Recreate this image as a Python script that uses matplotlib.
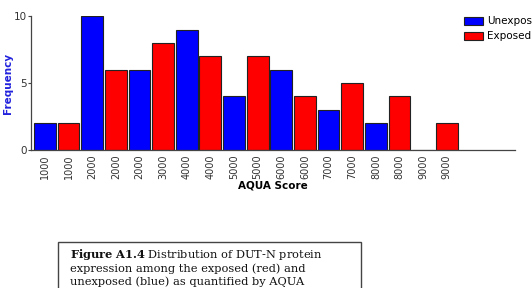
import matplotlib
matplotlib.use('Agg')
import matplotlib.pyplot as plt
from matplotlib.patches import Patch, Rectangle

# AQUA score bins, alternating unexposed / exposed
labels = ['1000', '1000', '2000', '2000', '2000', '3000', '4000', '4000', '5000',
          '5000', '6000', '6000', '7000', '7000', '8000', '8000', '9000', '9000']
frequency = [2, 2, 10, 6, 6, 8, 9, 7, 4, 7, 6, 4, 3, 5, 2, 4, 0, 2]
group = ['Unexposed', 'Exposed'] * 9
group_colors = {'Unexposed': '#0000ff', 'Exposed': '#ff0000'}

plt.rcParams['mathtext.fontset'] = 'dejavuserif'

fig = plt.figure(figsize=(5.32, 2.88), dpi=100)
ax = fig.add_axes([0.058, 0.479, 0.91, 0.465])

x = list(range(len(frequency)))
ax.bar(x, frequency, width=0.92, color=[group_colors[g] for g in group],
       edgecolor='#222222', linewidth=0.8)

ax.set_xlim(-0.59, 19.88)
ax.set_ylim(0, 10)
ax.set_yticks([0, 5, 10])
ax.set_xticks(x)
ax.set_xticklabels(labels, rotation=90, fontsize=7, color='#333333')
ax.tick_params(axis='x', length=0, pad=3)
ax.tick_params(axis='y', labelsize=7.5, labelcolor='#333333', color='#444444',
               length=2, width=0.8, pad=1)
for s in ['top', 'right']:
    ax.spines[s].set_visible(False)
for s in ['left', 'bottom']:
    ax.spines[s].set_color('#444444')
    ax.spines[s].set_linewidth(0.9)

ax.set_ylabel('Frequency', color='#2222dd', fontweight='bold', fontsize=7.5)
ax.yaxis.set_label_coords(-0.037, 0.5)
ax.set_xlabel('AQUA Score', fontweight='bold', fontsize=7.5, labelpad=1)

handles = [Patch(facecolor=group_colors[g], edgecolor='#222222', linewidth=0.8, label=g)
           for g in ['Unexposed', 'Exposed']]
fig.legend(handles=handles, loc='upper left', bbox_to_anchor=(0.868, 0.95),
           frameon=False, fontsize=7.5, handlelength=1.85, handleheight=0.8,
           handletextpad=0.4, labelspacing=0.45, borderaxespad=0, borderpad=0.2)

# caption box (cut off at the bottom of the image)
fig.patches.append(Rectangle((0.109, -0.2), 0.57, 0.36, transform=fig.transFigure,
                             facecolor='white', edgecolor='#444444', linewidth=1.0))
fig.text(0.132, 0.142,
         r'$\mathbf{Figure\ A1.4}$ Distribution of DUT-N protein' + '\n'
         'expression among the exposed (red) and\n'
         'unexposed (blue) as quantified by AQUA',
         fontsize=8.2, family='DejaVu Serif', va='top', ha='left', linespacing=1.2,
         color='#111111')

fig.savefig('out.png', dpi=100)
